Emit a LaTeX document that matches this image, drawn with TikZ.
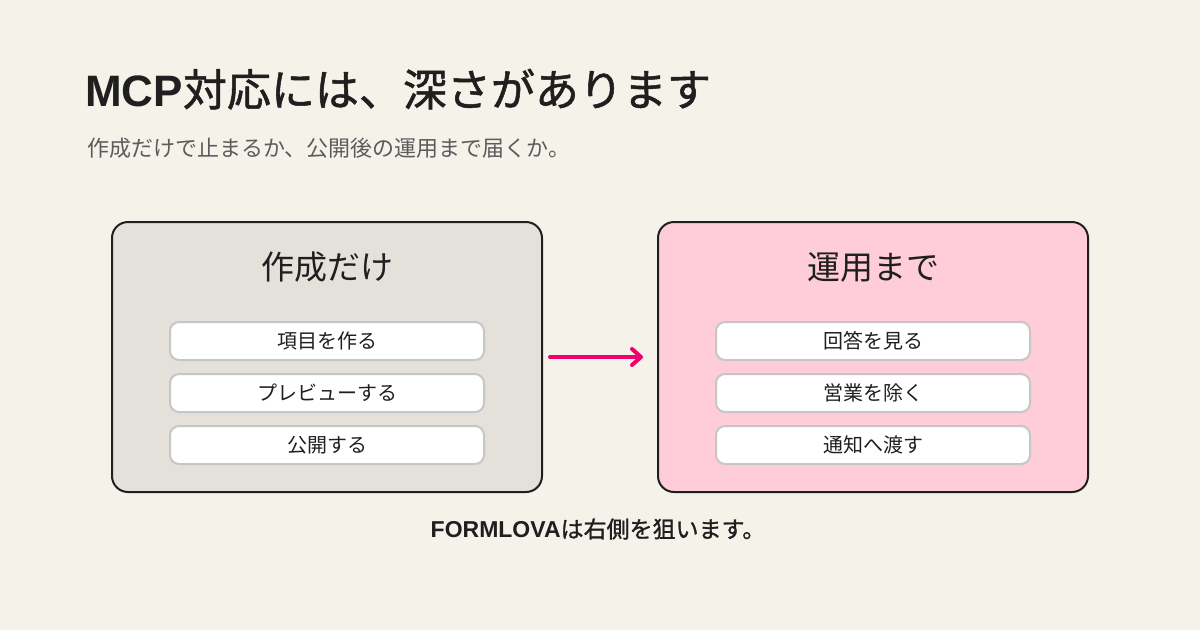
\documentclass[tikz,border=0pt]{standalone}
\usepackage{fontspec}
\setmainfont{Noto Sans CJK JP}
\newfontfamily\jpmed[FakeBold=1.2]{Noto Sans CJK JP}
\newfontfamily\latin{Liberation Sans}
\usetikzlibrary{arrows.meta,positioning}
\definecolor{paper}{HTML}{F5F2EA}
\definecolor{ink}{HTML}{1F1F1F}
\definecolor{muted}{HTML}{5C5C5C}
\definecolor{stone}{HTML}{E4E1DB}
\definecolor{blush}{HTML}{FFCCDA}
\definecolor{rim}{HTML}{C6C6C6}
\definecolor{hotpink}{HTML}{F2006F}
\newcommand{\px}[1]{\fontsize{#1}{#1}\selectfont}

\begin{document}
\begin{tikzpicture}[
  x=1pt, y=-1pt, node distance=12pt,
  card/.style={draw=ink, line width=2pt, rounded corners=16pt,
               minimum width=430pt, minimum height=270pt},
  heading/.style={text=ink, font=\px{33}},
  pill/.style={draw=rim, line width=2pt, fill=white, rounded corners=9pt,
               minimum width=314pt, minimum height=38pt, inner sep=0pt,
               text=ink, font=\px{20}},
  >={Straight Barb[length=9pt,width=16pt,line cap=round,line join=round]}]
\fill[paper] (0,0) rectangle (1200,630);
\useasboundingbox (0,0) rectangle (1200,630);
% header
\node[anchor=base west, inner sep=0pt, text=ink, font=\px{44}] (title) at (85,106) {{\latin\bfseries MCP}{\jpmed 対応には、深さがあります}};
\node[anchor=base west, inner sep=0pt, text=muted, font=\px{22}] (subtitle) at (87,156) {作成だけで止まるか、公開後の運用まで届くか。};
% left: build only
\node[card, fill=stone] (build) at (327,357) {};
\node[heading] (buildhead) at (327,267) {作成だけ};
\node[pill] (make) at (327,341) {項目を作る};
\node[pill, below=of make] (preview) {プレビューする};
\node[pill, below=of preview] (publish) {公開する};
% right: through operation
\node[card, fill=blush] (operate) at (873,357) {};
\node[heading] (operatehead) at (873,267) {運用まで};
\node[pill] (answers) at (873,341) {回答を見る};
\node[pill, below=of answers] (filter) {営業を除く};
\node[pill, below=of filter] (notify) {通知へ渡す};
% arrow and caption
\draw[->, hotpink, line width=4pt, line cap=round, shorten <=7pt, shorten >=14pt] (build.east) -- (operate.west);
\node[text=ink, font=\px{23}] (caption) at (598,529) {{\latin\bfseries FORMLOVA}{\jpmed は右側を狙います。}};
\end{tikzpicture}
\end{document}
